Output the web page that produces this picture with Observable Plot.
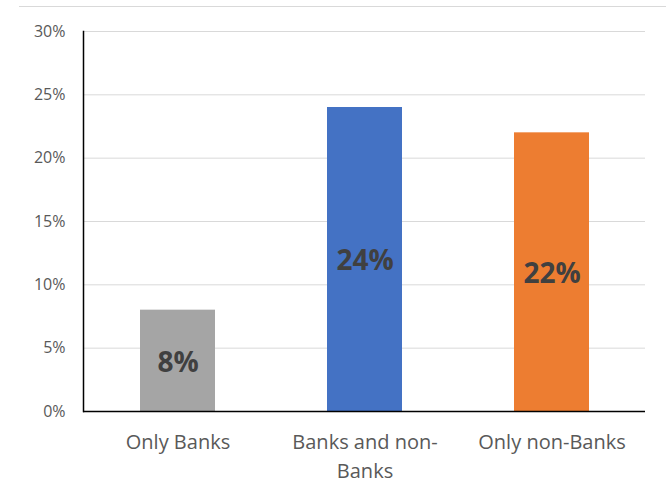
<!DOCTYPE html>
<html><head><meta charset="utf-8">
<script src="https://cdn.jsdelivr.net/npm/d3@7"></script>
<script src="https://cdn.jsdelivr.net/npm/@observablehq/plot@0.6"></script>
<style>
body{margin:0;background:#fff;}
#wrap{position:relative;width:666px;height:492px;}
#topline{position:absolute;left:19px;right:0;top:6px;height:0;border-top:1px solid #d9d9d9;}
</style></head><body><div id="wrap"><div id="topline"></div></div>
<script>
const categories = ["Only Banks", "Banks and non-Banks", "Only non-Banks"];
const values = [8, 24, 22];
const tickLabels = ["Only Banks", "Banks and non-\nBanks", "Only non-Banks"];
const colors = ["#A5A5A5", "#4472C4", "#ED7D31"];
const yTicks = [0, 5, 10, 15, 20, 25, 30];

const data = categories.map((c, i) => ({category: c, value: values[i], label: values[i] + "%"}));

const chart = Plot.plot({
  width: 666, height: 492,
  marginLeft: 83, marginRight: 21, marginTop: 31, marginBottom: 81,
  style: {fontFamily: "Open Sans", background: "white", overflow: "visible"},
  x: {domain: categories, paddingInner: 0.6, paddingOuter: 0.3, label: null},
  y: {domain: [0, 30], label: null},
  color: {domain: categories, range: colors},
  marks: [
    Plot.gridY(yTicks, {stroke: "#d9d9d9", strokeOpacity: 1}),
    Plot.barY(data, {x: "category", y: "value", fill: "category"}),
    Plot.text(data, {x: "category", y: d => d.value / 2, text: "label", fontSize: 28, fontWeight: "bold", fill: "#404040", dy: 2}),
    Plot.axisY(yTicks, {tickSize: 0, tickPadding: 18, tickFormat: d => d + "%", fontSize: 16, fill: "#595959"}),
    Plot.axisX({tickSize: 0, tickPadding: 17, tickFormat: d => tickLabels[categories.indexOf(d)], fontSize: 20, lineHeight: 1.45, fill: "#595959"}),
    Plot.frame({anchor: "left", stroke: "#000", strokeWidth: 1.5}),
    Plot.ruleY([0], {stroke: "#000", strokeWidth: 1.5})
  ]
});
document.getElementById("wrap").appendChild(chart);
</script>
</body></html>
